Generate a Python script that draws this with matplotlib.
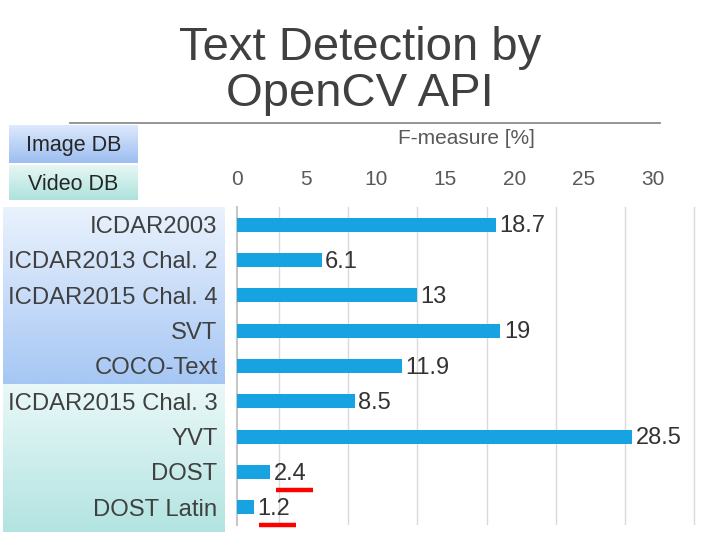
import numpy as np
import matplotlib
matplotlib.use("Agg")
import matplotlib.pyplot as plt
from matplotlib.lines import Line2D

plt.rcParams['font.family'] = ['Liberation Sans', 'DejaVu Sans']

# data
datasets = ["ICDAR2003", "ICDAR2013 Chal. 2", "ICDAR2015 Chal. 4", "SVT", "COCO-Text",
            "ICDAR2015 Chal. 3", "YVT", "DOST", "DOST Latin"]
fmeasure = [18.7, 6.1, 13, 19, 11.9, 8.5, 28.5, 2.4, 1.2]
n_image = 5                      # first five are image datasets, the rest video
underlined = ["DOST", "DOST Latin"]
xticks = [0, 5, 10, 15, 20, 25, 30]

W, H = 720, 540
fig = plt.figure(figsize=(7.2, 5.4), dpi=100)


def fig_box(x0, y0, x1, y1):
    # pixel box -> figure fraction [left, bottom, width, height]
    return [x0 / W, 1 - y1 / H, (x1 - x0) / W, (y1 - y0) / H]


def gradient_panel(box, top, bottom):
    a = fig.add_axes(fig_box(*box), zorder=0)
    c0 = np.array(matplotlib.colors.to_rgb(top))
    c1 = np.array(matplotlib.colors.to_rgb(bottom))
    t = np.linspace(0, 1, 100)[:, None, None]
    img = c0 * (1 - t) + c1 * t
    a.imshow(img, aspect='auto', extent=[0, 1, 0, 1])
    a.set_axis_off()
    return a


# background panels behind category labels and the legend boxes
gradient_panel((3, 207, 225, 384), "#eaf2fd", "#a6c7f4")
gradient_panel((3, 384, 225, 532), "#eaf8f8", "#b2e4e1")
lg1 = gradient_panel((9, 125, 138, 163), "#dfeafc", "#9cbef1")
lg2 = gradient_panel((9, 165, 138, 200), "#e6f7f5", "#aee2dc")
lg1.text(0.5, 0.45, "Image DB", ha='center', va='center', fontsize=15.5, color="#262626",
         transform=lg1.transAxes)
lg2.text(0.5, 0.45, "Video DB", ha='center', va='center', fontsize=15.5, color="#262626",
         transform=lg2.transAxes)

# main bar chart
ax = fig.add_axes(fig_box(237, 207, 700, 525), zorder=2)
ax.patch.set_alpha(0)
y = np.arange(len(datasets))
ax.barh(y, fmeasure, height=0.4, color="#17a2e2", zorder=3)
ax.set_ylim(len(datasets) - 0.5, -0.5)
ax.set_xlim(0, 33.4)

ax.set_yticks(y)
ax.set_yticklabels(datasets, fontsize=17.2, color="#404040")
ax.tick_params(axis='y', length=0, pad=14)

ax.xaxis.tick_top()
ax.set_xticks(xticks)
ax.set_xticklabels([str(t) for t in xticks], fontsize=15, color="#595959")
ax.tick_params(axis='x', which='major', length=0, pad=13)
ax.set_xticks(np.arange(3, 34, 5), minor=True)
ax.tick_params(axis='x', which='minor', length=0)
ax.grid(True, axis='x', which='minor', color="#d9d9d9", lw=1)

for s in ['top', 'right', 'bottom']:
    ax.spines[s].set_visible(False)
ax.spines['left'].set_color("#c8c8c8")
ax.spines['left'].set_linewidth(1.5)

for i, v in enumerate(fmeasure):
    ax.text(v + 0.25, i + 0.05, f"{v:g}", va='center', ha='left', fontsize=17, color="#333333")
    if datasets[i] in underlined:
        ax.plot([v + 0.4, v + 3.05], [i + 0.5, i + 0.5], color="red", lw=3.2,
                solid_capstyle='butt', clip_on=False, zorder=4)

# title, rule and axis caption
fig.text(0.5, 1 - 71 / H, "Text Detection by\nOpenCV API", ha='center', va='center',
         fontsize=34, color="#404040", linespacing=1.08)
fig.add_artist(Line2D([70 / W, 660 / W], [1 - 123 / H, 1 - 123 / H], color="#8c8c8c", lw=1.3))
fig.text(466 / W, 1 - 138 / H, "F-measure [%]", ha='center', va='center',
         fontsize=15, color="#595959")

fig.savefig("out.png", dpi=100)
